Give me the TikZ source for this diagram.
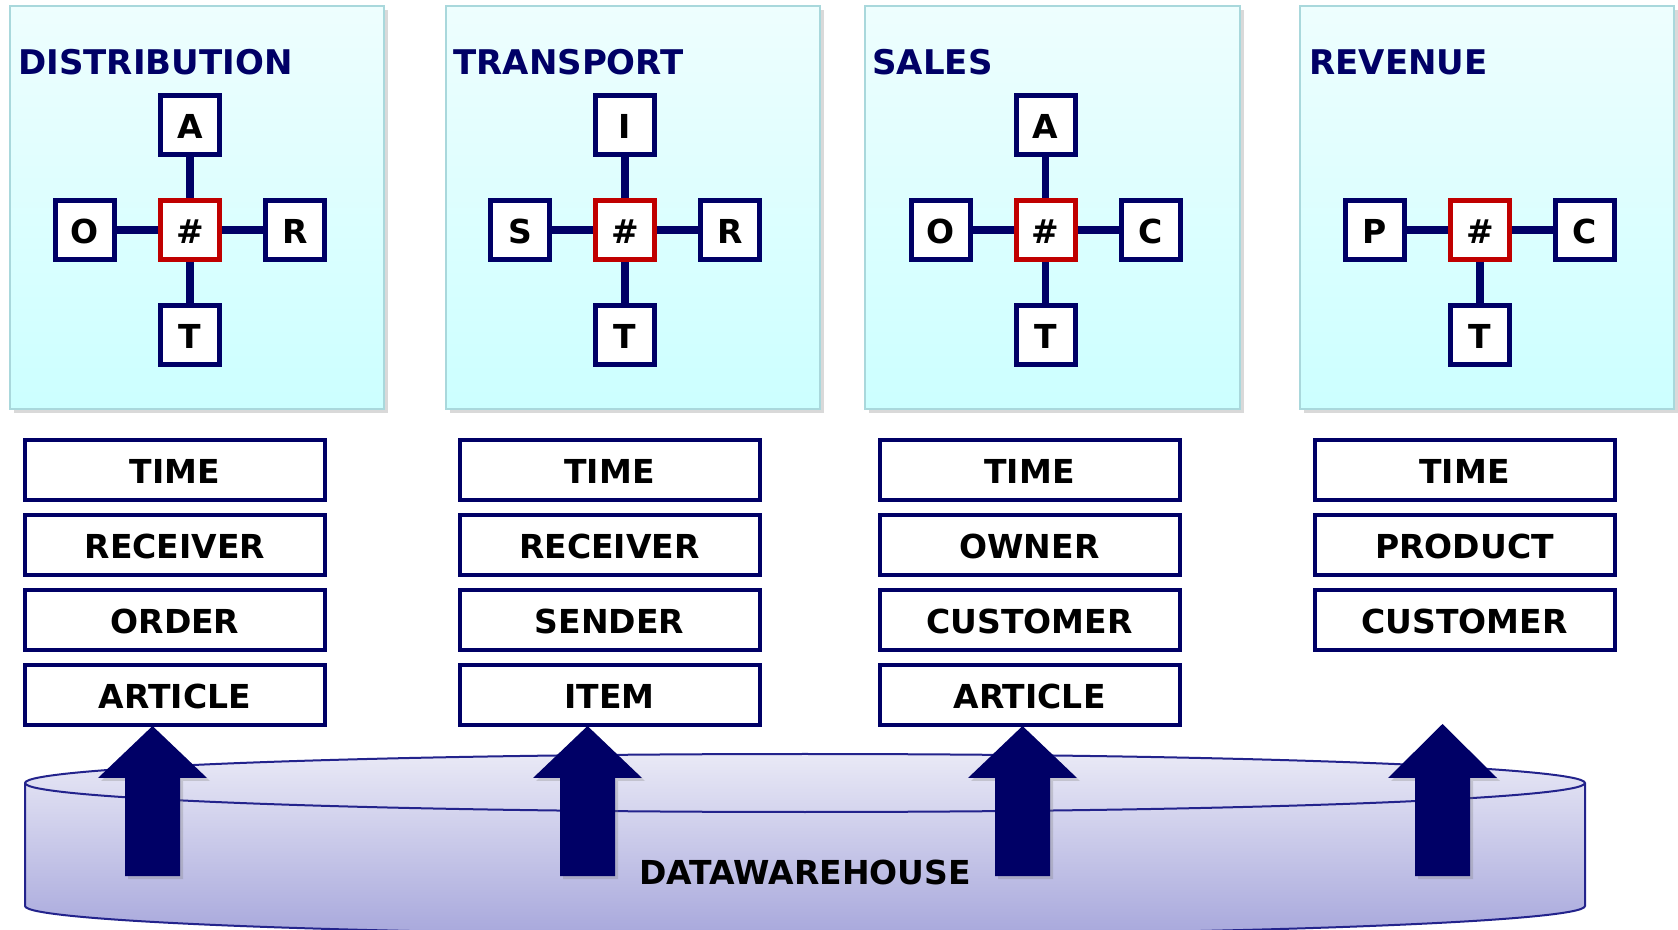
\documentclass[tikz,border=0pt]{standalone}
\usepackage{fontspec}
\setmainfont{DejaVu Sans}
\usetikzlibrary{shadows}
\definecolor{navy}{HTML}{000066}
\definecolor{hubred}{HTML}{C00000}
\definecolor{panelrim}{HTML}{A9D8DC}
\definecolor{paneltop}{HTML}{EEFEFE}
\definecolor{panelbot}{HTML}{CCFFFF}
\definecolor{dwtop}{HTML}{E9E9F6}
\definecolor{dwbot}{HTML}{A8A8DC}
\definecolor{dwrim}{HTML}{23238C}

\begin{document}
\begin{tikzpicture}[x=0.5pt,y=-0.5pt,
  bigfont/.style={font=\fontsize{16.5}{19}\selectfont\bfseries},
  panel/.style={draw=panelrim, line width=1pt, top color=paneltop, bottom color=panelbot,
    minimum width=187.3pt, minimum height=201.5pt, inner sep=0pt,
    drop shadow={shadow xshift=2pt, shadow yshift=-2pt, opacity=0.3}},
  title/.style={font=\fontsize{17}{20}\selectfont\bfseries, text=navy, anchor=base west, inner sep=0pt},
  dim/.style={bigfont, draw=navy, line width=2.5pt, fill=white, minimum size=29.5pt,
    inner sep=0pt, text height=13.6pt, text depth=0pt},
  hub/.style={dim, draw=hubred},
  link/.style={draw=navy, line width=3.6pt},
  entry/.style={bigfont, draw=navy, line width=2pt, fill=white, minimum width=150pt,
    minimum height=30pt, inner sep=0pt, text height=13.3pt, text depth=0pt},
  feed/.style={fill=navy, drop shadow={shadow xshift=1.5pt, shadow yshift=-1.5pt, opacity=0.3}}
]
\useasboundingbox (0,0) rectangle (1678,930);

% ---------- star-schema panels ----------
\node[panel] (pD) at (197,207.5) {};
\node[panel] (pT) at (633,207.5) {};
\node[panel] (pS) at (1052.5,207.5) {};
\node[panel] (pR) at (1487,207.5) {};

\node[title] (tiD) at (18,75) {DISTRIBUTION};
\node[title] (tiT) at (453,75) {TRANSPORT};
\node[title] (tiS) at (872,75) {SALES};
\node[title] (tiR) at (1309,75) {REVENUE};

% Distribution
\node[hub] (hD) at (190,230) {\#};
\node[dim] (aD) at (190,125) {A};
\node[dim] (oD) at (85,230) {O};
\node[dim] (rD) at (295,230) {R};
\node[dim] (tD) at (190,335) {T};
\draw[link] (hD) -- (aD);
\draw[link] (hD) -- (oD);
\draw[link] (hD) -- (rD);
\draw[link] (hD) -- (tD);

% Transport
\node[hub] (hT) at (625,230) {\#};
\node[dim] (iT) at (625,125) {I};
\node[dim] (sT) at (520,230) {S};
\node[dim] (rT) at (730,230) {R};
\node[dim] (tT) at (625,335) {T};
\draw[link] (hT) -- (iT);
\draw[link] (hT) -- (sT);
\draw[link] (hT) -- (rT);
\draw[link] (hT) -- (tT);

% Sales
\node[hub] (hS) at (1045.5,230) {\#};
\node[dim] (aS) at (1045.5,125) {A};
\node[dim] (oS) at (940.5,230) {O};
\node[dim] (cS) at (1150.5,230) {C};
\node[dim] (tS) at (1045.5,335) {T};
\draw[link] (hS) -- (aS);
\draw[link] (hS) -- (oS);
\draw[link] (hS) -- (cS);
\draw[link] (hS) -- (tS);

% Revenue
\node[hub] (hR) at (1480,230) {\#};
\node[dim] (pR2) at (1375,230) {P};
\node[dim] (cR) at (1585,230) {C};
\node[dim] (tR) at (1480,335) {T};
\draw[link] (hR) -- (pR2);
\draw[link] (hR) -- (cR);
\draw[link] (hR) -- (tR);

% ---------- data warehouse cylinder ----------
\path[top color=dwtop, bottom color=dwbot, draw=dwrim, line width=1pt]
  (25,783) -- (25,906)
  arc[start angle=180, end angle=360, x radius=390pt, y radius=14.5pt]
  -- (1585,783)
  arc[start angle=0, end angle=180, x radius=390pt, y radius=14.5pt] -- cycle;
\draw[dwrim, line width=1pt] (25,783)
  arc[start angle=180, end angle=360, x radius=390pt, y radius=14.5pt];
\node[bigfont] (dw) at (805,872) {DATAWAREHOUSE};

% ---------- dimension lists ----------
\node[entry] (d1) at (175,470) {TIME};
\node[entry] (d2) at (175,545) {RECEIVER};
\node[entry] (d3) at (175,620) {ORDER};
\node[entry] (d4) at (175,695) {ARTICLE};

\node[entry] (t1) at (609.5,470) {TIME};
\node[entry] (t2) at (609.5,545) {RECEIVER};
\node[entry] (t3) at (609.5,620) {SENDER};
\node[entry] (t4) at (609.5,695) {ITEM};

\node[entry] (s1) at (1029.5,470) {TIME};
\node[entry] (s2) at (1029.5,545) {OWNER};
\node[entry] (s3) at (1029.5,620) {CUSTOMER};
\node[entry] (s4) at (1029.5,695) {ARTICLE};

\node[entry] (r1) at (1464.5,470) {TIME};
\node[entry] (r2) at (1464.5,545) {PRODUCT};
\node[entry] (r3) at (1464.5,620) {CUSTOMER};

% ---------- block arrows rising from the warehouse ----------
\foreach \c/\t in {152.5/726, 587.5/726, 1022.5/726, 1442.5/724} {
  \fill[feed] (\c,\t) -- (\c+54.5,778) -- (\c+27.5,778) -- (\c+27.5,876)
    -- (\c-27.5,876) -- (\c-27.5,778) -- (\c-54.5,778) -- cycle;
}
\end{tikzpicture}
\end{document}
